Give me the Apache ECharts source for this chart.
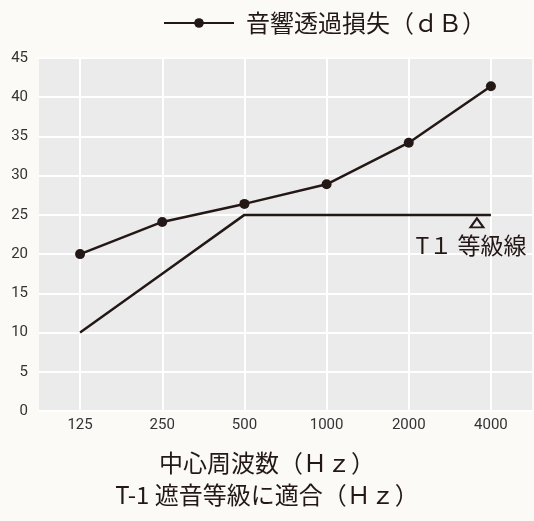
<!DOCTYPE html>
<html><head><meta charset="utf-8">
<script src="https://cdn.jsdelivr.net/npm/echarts@6/dist/echarts.min.js"></script>
<style>html,body{margin:0;padding:0;background:#fbfaf7;}#c{width:534px;height:521px;}</style>
</head><body><div id="c"></div>
<script>
const categories = ['125','250','500','1000','2000','4000'];
const lossValues = [20, 24.1, 26.4, 28.9, 34.2, 41.4];
const t1Values = [10, 17.5, 25, 25, 25, 25];
const yTicks = {min: 0, max: 45, interval: 5};
const legendName = '音響透過損失（ｄＢ）';
const t1Label = 'T１ 等級線';
const xTitle1 = '中心周波数（Ｈｚ）';
const xTitle2 = 'T-1 遮音等級に適合（Ｈｚ）';

const ink = '#231815';
const cjk = '"Noto Sans CJK JP", sans-serif';
const num = '"Liberation Sans Narrow", "Roboto", sans-serif';

const chart = echarts.init(document.getElementById('c'));
chart.setOption({
  backgroundColor: '#fbfaf7',
  animation: false,
  grid: {left: 39, right: 2, top: 58, bottom: 110, show: true, backgroundColor: '#ebebeb', borderWidth: 0},
  legend: {
    data: [legendName], left: 158, top: 6, itemWidth: 70, itemHeight: 12, itemGap: 10,
    textStyle: {fontFamily: cjk, fontSize: 24, color: ink, padding: [0, 0, 0, 7]}
  },
  xAxis: {
    type: 'category', data: categories,
    axisLine: {show: false}, axisTick: {show: false},
    axisLabel: {fontFamily: num, fontSize: 15, color: '#333', margin: 7},
    splitLine: {show: true, alignWithLabel: true, lineStyle: {color: '#ffffff', width: 2}}
  },
  yAxis: {
    type: 'value', min: yTicks.min, max: yTicks.max, interval: yTicks.interval,
    axisLine: {show: false}, axisTick: {show: false},
    axisLabel: {fontFamily: num, fontSize: 15, color: '#333', margin: 11},
    splitLine: {show: true, lineStyle: {color: '#ffffff', width: 2}}
  },
  series: [
    {
      name: legendName, type: 'line', data: lossValues,
      symbol: 'circle', symbolSize: 10,
      lineStyle: {color: ink, width: 2.5}, itemStyle: {color: ink}
    },
    {
      name: 'T1', type: 'line', data: t1Values, symbol: 'none',
      lineStyle: {color: ink, width: 2.5},
      markPoint: {
        symbol: 'circle', symbolSize: 1,
        itemStyle: {color: 'rgba(0,0,0,0)'},
        data: [
          {coord: ['4000', 25], symbol: 'triangle', symbolSize: [13, 9], symbolOffset: [-14, 8],
           itemStyle: {color: 'rgba(0,0,0,0)', borderColor: ink, borderWidth: 2},
           label: {show: false}},
          {coord: ['4000', 25], label: {show: true, position: 'inside', formatter: t1Label, offset: [-20, 30], fontSize: 23, color: ink, fontFamily: cjk}}
        ]
      }
    }
  ],
  graphic: [
    {type: 'text', left: 'center', top: 451, style: {text: xTitle1, font: '24px ' + cjk, fill: ink}},
    {type: 'text', left: 'center', top: 483, style: {text: xTitle2, font: '24px ' + cjk, fill: ink}}
  ]
});
</script></body></html>
